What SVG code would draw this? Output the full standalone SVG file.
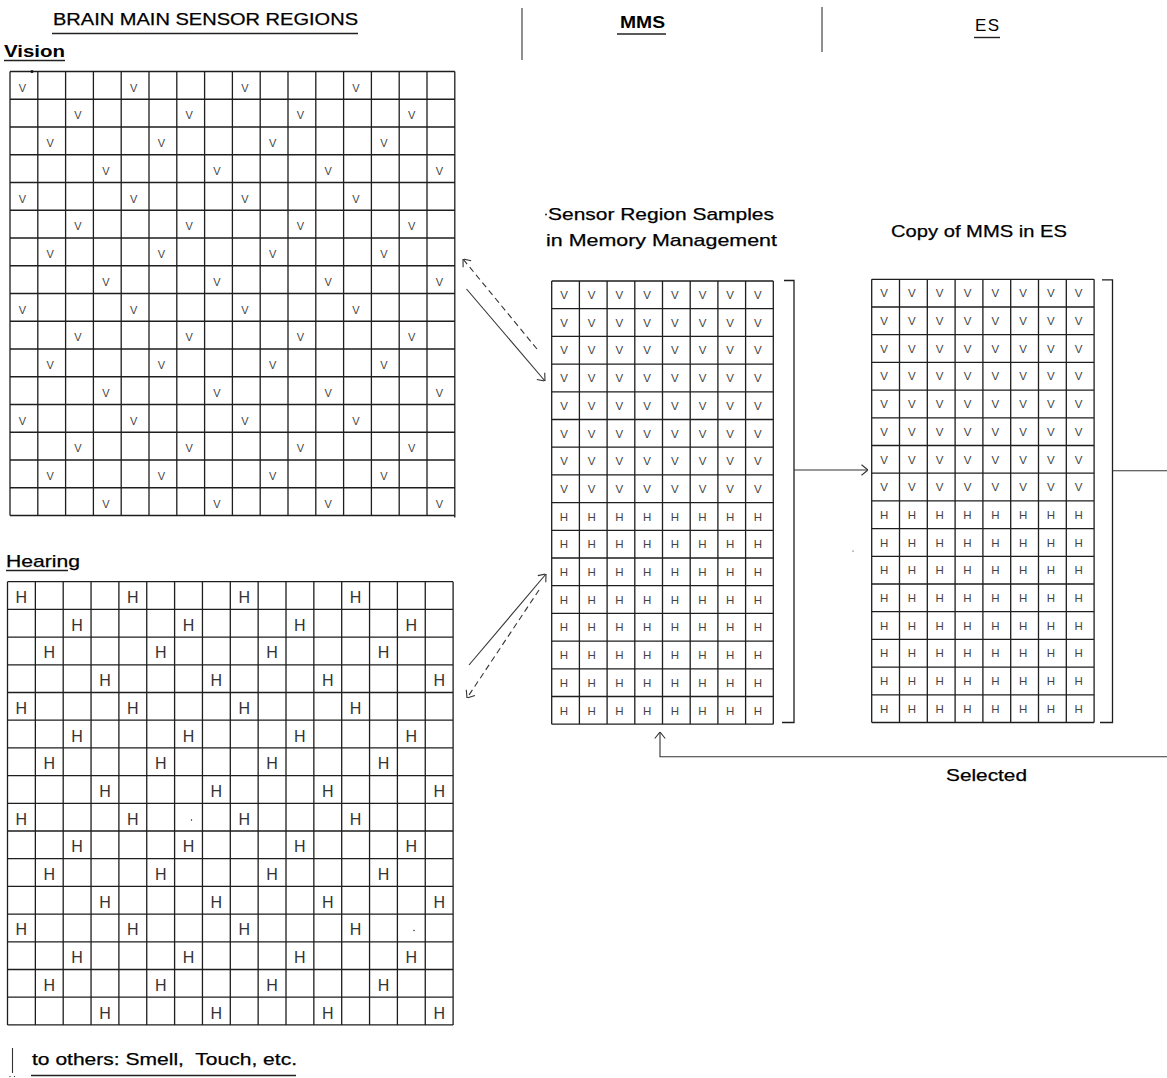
<svg xmlns="http://www.w3.org/2000/svg" width="1167" height="1078" viewBox="0 0 1167 1078">
<style>
.bg{fill:#fff}
.g{fill:none;stroke:#1e1e1e;stroke-width:1.3}
.c{fill:none;stroke:#333;stroke-width:1.1}
.d{stroke-dasharray:6 4}
.ul{stroke:#222;stroke-width:1.4}
.lbl{font-family:"Liberation Sans",Arial,sans-serif;font-size:17px;fill:#000;stroke:#000;stroke-width:0.25}
.b{font-weight:bold;stroke-width:0}
.cv{font-family:"Liberation Sans",Arial,sans-serif;font-size:11px;fill:#444;text-anchor:middle}
.cm{font-family:"Liberation Sans",Arial,sans-serif;font-size:11.5px;fill:#444;text-anchor:middle}
.ch{font-family:"Liberation Sans",Arial,sans-serif;font-size:16px;fill:#333;text-anchor:middle}
.dot{fill:#111}
</style>
<defs>
<marker id="arr" viewBox="0 0 7 12" refX="7" refY="6" markerWidth="7" markerHeight="12" markerUnits="userSpaceOnUse" orient="auto">
<path d="M0.5,0.8 L7,6 L0.5,11.2" fill="none" stroke="#333" stroke-width="1.1"/>
</marker>
</defs>
<rect class="bg" x="0" y="0" width="1167" height="1078"/>

<g id="header">
<text class="lbl" x="53" y="25" textLength="305" lengthAdjust="spacingAndGlyphs">BRAIN MAIN SENSOR REGIONS</text>
<line class="ul" x1="52" y1="33.5" x2="358" y2="33.5"/>
<line class="c" x1="522" y1="8" x2="522" y2="60"/>
<text class="lbl b" x="620" y="28" textLength="45" lengthAdjust="spacingAndGlyphs">MMS</text>
<line class="ul" x1="617" y1="34" x2="666" y2="34"/>
<line class="c" x1="822" y1="7" x2="822" y2="52"/>
<text class="lbl" x="975" y="31" textLength="24" lengthAdjust="spacing" style="stroke-width:0">ES</text>
<line class="ul" x1="974" y1="37.5" x2="1000" y2="37.5"/>
</g>

<g id="vision">
<text class="lbl b" x="4" y="57" textLength="61" lengthAdjust="spacingAndGlyphs">Vision</text>
<line class="ul" x1="4" y1="60.5" x2="65" y2="60.5" stroke-width="1.6"/>
<path class="g" d="M10 71.5V515.5M37.8 71.5V515.5M65.6 71.5V515.5M93.4 71.5V515.5M121.2 71.5V515.5M149 71.5V515.5M176.8 71.5V515.5M204.6 71.5V515.5M232.4 71.5V515.5M260.2 71.5V515.5M288 71.5V515.5M315.8 71.5V515.5M343.6 71.5V515.5M371.4 71.5V515.5M399.2 71.5V515.5M427 71.5V515.5M454.8 71.5V517.5M10 71.5H454.8M10 99.25H454.8M10 127H454.8M10 154.75H454.8M10 182.5H454.8M10 210.25H454.8M10 238H454.8M10 265.75H454.8M10 293.5H454.8M10 321.25H454.8M10 349H454.8M10 376.75H454.8M10 404.5H454.8M10 432.25H454.8M10 460H454.8M10 487.75H454.8M10 515.5H454.8"/>
<text class="cv" x="22.4 133.6 244.8 356" y="91.5">VVVV</text>
<text class="cv" x="78 189.2 300.4 411.6" y="119.25">VVVV</text>
<text class="cv" x="50.2 161.4 272.6 383.8" y="147">VVVV</text>
<text class="cv" x="105.8 217 328.2 439.4" y="174.75">VVVV</text>
<text class="cv" x="22.4 133.6 244.8 356" y="202.5">VVVV</text>
<text class="cv" x="78 189.2 300.4 411.6" y="230.25">VVVV</text>
<text class="cv" x="50.2 161.4 272.6 383.8" y="258">VVVV</text>
<text class="cv" x="105.8 217 328.2 439.4" y="285.75">VVVV</text>
<text class="cv" x="22.4 133.6 244.8 356" y="313.5">VVVV</text>
<text class="cv" x="78 189.2 300.4 411.6" y="341.25">VVVV</text>
<text class="cv" x="50.2 161.4 272.6 383.8" y="369">VVVV</text>
<text class="cv" x="105.8 217 328.2 439.4" y="396.75">VVVV</text>
<text class="cv" x="22.4 133.6 244.8 356" y="424.5">VVVV</text>
<text class="cv" x="78 189.2 300.4 411.6" y="452.25">VVVV</text>
<text class="cv" x="50.2 161.4 272.6 383.8" y="480">VVVV</text>
<text class="cv" x="105.8 217 328.2 439.4" y="507.75">VVVV</text>
<circle class="dot" cx="32" cy="71.5" r="1.5"/>
</g>

<g id="hearing">
<text class="lbl" x="6" y="567" textLength="74" lengthAdjust="spacingAndGlyphs">Hearing</text>
<line class="ul" x1="6" y1="570.5" x2="68" y2="570.5"/>
<path class="g" d="M7.5 581.7V1024.9M35.35 581.7V1024.9M63.2 581.7V1024.9M91.05 581.7V1024.9M118.9 581.7V1024.9M146.75 581.7V1024.9M174.6 581.7V1024.9M202.45 581.7V1024.9M230.3 581.7V1024.9M258.15 581.7V1024.9M286 581.7V1024.9M313.85 581.7V1024.9M341.7 581.7V1024.9M369.55 581.7V1024.9M397.4 581.7V1024.9M425.25 581.7V1024.9M453.1 581.7V1024.9M7.5 581.7H453.1M7.5 609.4H453.1M7.5 637.1H453.1M7.5 664.8H453.1M7.5 692.5H453.1M7.5 720.2H453.1M7.5 747.9H453.1M7.5 775.6H453.1M7.5 803.3H453.1M7.5 831H453.1M7.5 858.7H453.1M7.5 886.4H453.1M7.5 914.1H453.1M7.5 941.8H453.1M7.5 969.5H453.1M7.5 997.2H453.1M7.5 1024.9H453.1"/>
<text class="ch" x="21.4 132.8 244.2 355.6" y="603">HHHH</text>
<text class="ch" x="77.1 188.5 299.9 411.3" y="630.7">HHHH</text>
<text class="ch" x="49.3 160.7 272.1 383.5" y="658.4">HHHH</text>
<text class="ch" x="105 216.4 327.8 439.2" y="686.1">HHHH</text>
<text class="ch" x="21.4 132.8 244.2 355.6" y="713.8">HHHH</text>
<text class="ch" x="77.1 188.5 299.9 411.3" y="741.5">HHHH</text>
<text class="ch" x="49.3 160.7 272.1 383.5" y="769.2">HHHH</text>
<text class="ch" x="105 216.4 327.8 439.2" y="796.9">HHHH</text>
<text class="ch" x="21.4 132.8 244.2 355.6" y="824.6">HHHH</text>
<text class="ch" x="77.1 188.5 299.9 411.3" y="852.3">HHHH</text>
<text class="ch" x="49.3 160.7 272.1 383.5" y="880">HHHH</text>
<text class="ch" x="105 216.4 327.8 439.2" y="907.7">HHHH</text>
<text class="ch" x="21.4 132.8 244.2 355.6" y="935.4">HHHH</text>
<text class="ch" x="77.1 188.5 299.9 411.3" y="963.1">HHHH</text>
<text class="ch" x="49.3 160.7 272.1 383.5" y="990.8">HHHH</text>
<text class="ch" x="105 216.4 327.8 439.2" y="1018.5">HHHH</text>
<circle class="dot" cx="191.5" cy="820" r="0.7"/>
<circle class="dot" cx="414" cy="930.5" r="0.7"/>
</g>

<g id="mms">
<circle class="dot" cx="546" cy="214.5" r="0.9"/>
<text class="lbl" x="548" y="220" textLength="226" lengthAdjust="spacingAndGlyphs">Sensor Region Samples</text>
<text class="lbl" x="546" y="246" textLength="231" lengthAdjust="spacingAndGlyphs">in Memory Management</text>
<path class="g" d="M551.7 281V724.2M579.4 281V724.2M607.1 281V724.2M634.8 281V724.2M662.5 281V724.2M690.2 281V724.2M717.9 281V724.2M745.6 281V724.2M773.3 281V724.2M551.7 281H773.3M551.7 308.7H773.3M551.7 336.4H773.3M551.7 364.1H773.3M551.7 391.8H773.3M551.7 419.5H773.3M551.7 447.2H773.3M551.7 474.9H773.3M551.7 502.6H773.3M551.7 530.3H773.3M551.7 558H773.3M551.7 585.7H773.3M551.7 613.4H773.3M551.7 641.1H773.3M551.7 668.8H773.3M551.7 696.5H773.3M551.7 724.2H773.3"/>
<text class="cm" x="564 591.7 619.4 647.1 674.8 702.5 730.2 757.9" y="299">VVVVVVVV</text>
<text class="cm" x="564 591.7 619.4 647.1 674.8 702.5 730.2 757.9" y="326.7">VVVVVVVV</text>
<text class="cm" x="564 591.7 619.4 647.1 674.8 702.5 730.2 757.9" y="354.4">VVVVVVVV</text>
<text class="cm" x="564 591.7 619.4 647.1 674.8 702.5 730.2 757.9" y="382.1">VVVVVVVV</text>
<text class="cm" x="564 591.7 619.4 647.1 674.8 702.5 730.2 757.9" y="409.8">VVVVVVVV</text>
<text class="cm" x="564 591.7 619.4 647.1 674.8 702.5 730.2 757.9" y="437.5">VVVVVVVV</text>
<text class="cm" x="564 591.7 619.4 647.1 674.8 702.5 730.2 757.9" y="465.2">VVVVVVVV</text>
<text class="cm" x="564 591.7 619.4 647.1 674.8 702.5 730.2 757.9" y="492.9">VVVVVVVV</text>
<text class="cm" x="564 591.7 619.4 647.1 674.8 702.5 730.2 757.9" y="520.6">HHHHHHHH</text>
<text class="cm" x="564 591.7 619.4 647.1 674.8 702.5 730.2 757.9" y="548.3">HHHHHHHH</text>
<text class="cm" x="564 591.7 619.4 647.1 674.8 702.5 730.2 757.9" y="576">HHHHHHHH</text>
<text class="cm" x="564 591.7 619.4 647.1 674.8 702.5 730.2 757.9" y="603.7">HHHHHHHH</text>
<text class="cm" x="564 591.7 619.4 647.1 674.8 702.5 730.2 757.9" y="631.4">HHHHHHHH</text>
<text class="cm" x="564 591.7 619.4 647.1 674.8 702.5 730.2 757.9" y="659.1">HHHHHHHH</text>
<text class="cm" x="564 591.7 619.4 647.1 674.8 702.5 730.2 757.9" y="686.8">HHHHHHHH</text>
<text class="cm" x="564 591.7 619.4 647.1 674.8 702.5 730.2 757.9" y="714.5">HHHHHHHH</text>
<path class="g" d="M784 280.5H794V722.5H782"/>
</g>

<g id="es">
<text class="lbl" x="891" y="237" textLength="176" lengthAdjust="spacingAndGlyphs">Copy of MMS in ES</text>
<path class="g" d="M871.7 279.3V722.5M899.5 279.3V722.5M927.3 279.3V722.5M955.1 279.3V722.5M982.9 279.3V722.5M1010.7 279.3V722.5M1038.5 279.3V722.5M1066.3 279.3V722.5M1094.1 279.3V722.5M871.7 279.3H1094.1M871.7 307H1094.1M871.7 334.7H1094.1M871.7 362.4H1094.1M871.7 390.1H1094.1M871.7 417.8H1094.1M871.7 445.5H1094.1M871.7 473.2H1094.1M871.7 500.9H1094.1M871.7 528.6H1094.1M871.7 556.3H1094.1M871.7 584H1094.1M871.7 611.7H1094.1M871.7 639.4H1094.1M871.7 667.1H1094.1M871.7 694.8H1094.1M871.7 722.5H1094.1"/>
<text class="cm" x="884.1 911.9 939.7 967.5 995.3 1023.1 1050.9 1078.7" y="297.3">VVVVVVVV</text>
<text class="cm" x="884.1 911.9 939.7 967.5 995.3 1023.1 1050.9 1078.7" y="325">VVVVVVVV</text>
<text class="cm" x="884.1 911.9 939.7 967.5 995.3 1023.1 1050.9 1078.7" y="352.7">VVVVVVVV</text>
<text class="cm" x="884.1 911.9 939.7 967.5 995.3 1023.1 1050.9 1078.7" y="380.4">VVVVVVVV</text>
<text class="cm" x="884.1 911.9 939.7 967.5 995.3 1023.1 1050.9 1078.7" y="408.1">VVVVVVVV</text>
<text class="cm" x="884.1 911.9 939.7 967.5 995.3 1023.1 1050.9 1078.7" y="435.8">VVVVVVVV</text>
<text class="cm" x="884.1 911.9 939.7 967.5 995.3 1023.1 1050.9 1078.7" y="463.5">VVVVVVVV</text>
<text class="cm" x="884.1 911.9 939.7 967.5 995.3 1023.1 1050.9 1078.7" y="491.2">VVVVVVVV</text>
<text class="cm" x="884.1 911.9 939.7 967.5 995.3 1023.1 1050.9 1078.7" y="518.9">HHHHHHHH</text>
<text class="cm" x="884.1 911.9 939.7 967.5 995.3 1023.1 1050.9 1078.7" y="546.6">HHHHHHHH</text>
<text class="cm" x="884.1 911.9 939.7 967.5 995.3 1023.1 1050.9 1078.7" y="574.3">HHHHHHHH</text>
<text class="cm" x="884.1 911.9 939.7 967.5 995.3 1023.1 1050.9 1078.7" y="602">HHHHHHHH</text>
<text class="cm" x="884.1 911.9 939.7 967.5 995.3 1023.1 1050.9 1078.7" y="629.7">HHHHHHHH</text>
<text class="cm" x="884.1 911.9 939.7 967.5 995.3 1023.1 1050.9 1078.7" y="657.4">HHHHHHHH</text>
<text class="cm" x="884.1 911.9 939.7 967.5 995.3 1023.1 1050.9 1078.7" y="685.1">HHHHHHHH</text>
<text class="cm" x="884.1 911.9 939.7 967.5 995.3 1023.1 1050.9 1078.7" y="712.8">HHHHHHHH</text>
<path class="g" d="M1102 279.8H1112.5V722.5H1100"/>
<circle class="dot" cx="853" cy="551" r="0.6"/>
</g>

<g id="connectors">
<path class="c d" d="M537 349L463 259" marker-end="url(#arr)"/>
<path class="c" d="M466.5 289L545 381" marker-end="url(#arr)"/>
<path class="c" d="M469 665L546 574" marker-end="url(#arr)"/>
<path class="c d" d="M539 590L467 698" marker-end="url(#arr)"/>
<path class="c" d="M794 470H868" marker-end="url(#arr)"/>
<path class="c" d="M1112.5 470.7H1167"/>
<path class="c" d="M1167 756.7H660V732" marker-end="url(#arr)"/>
<text class="lbl" x="946" y="781" textLength="81" lengthAdjust="spacingAndGlyphs">Selected</text>
</g>

<g id="others">
<line class="c" x1="12.5" y1="1048" x2="12.5" y2="1073"/>
<circle class="dot" cx="10" cy="1076.5" r="0.6"/>
<circle class="dot" cx="14.5" cy="1076.5" r="0.6"/>
<text class="lbl" x="32" y="1065" textLength="265" lengthAdjust="spacingAndGlyphs" xml:space="preserve">to others: Smell,  Touch, etc.</text>
<line class="ul" x1="31" y1="1075.5" x2="296" y2="1075.5"/>
</g>
</svg>
